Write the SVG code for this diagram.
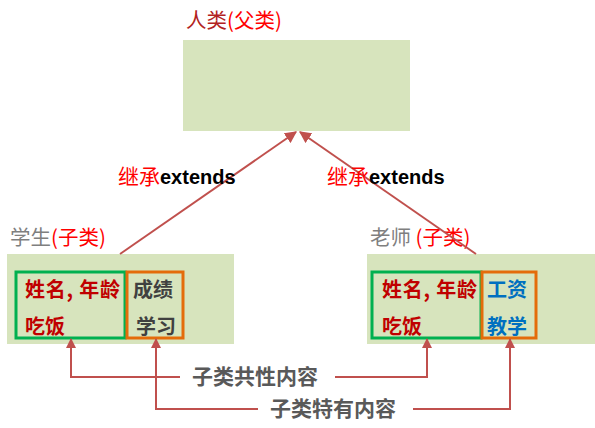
<svg xmlns="http://www.w3.org/2000/svg" width="595" height="428" viewBox="0 0 595 428">
<defs>
<style>
.cjk{font-family:"Noto Sans CJK SC","Liberation Sans",sans-serif;}
.title{font-size:20.5px;}
.box{fill:#D7E4BD;}
.green{fill:none;stroke:#00B050;stroke-width:3;}
.orange{fill:none;stroke:#E46C0A;stroke-width:3;}
.item{font-size:20px;font-weight:bold;}
.conn{fill:none;stroke:#C0504D;stroke-width:2;}
.lab{font-size:21px;font-weight:bold;fill:#595959;}
</style>
<marker id="ah" viewBox="0 0 10 10" refX="9" refY="5" markerWidth="6" markerHeight="6" orient="auto" markerUnits="strokeWidth">
<path d="M0,0 L10,5 L0,10 Z" fill="#C0504D"/>
</marker>
<marker id="ahs" viewBox="0 0 10 10" refX="9" refY="5" markerWidth="5" markerHeight="5" orient="auto" markerUnits="strokeWidth">
<path d="M0,0 L10,5 L0,10 Z" fill="#C0504D"/>
</marker>
</defs>
<rect width="595" height="428" fill="#ffffff"/>

<g id="parent">
<rect class="box" x="183" y="40" width="227" height="91"/>
<text class="cjk title" x="186" y="28"><tspan fill="#B22222">人类</tspan><tspan fill="#FF0000">(父类)</tspan></text>
</g>

<g id="student">
<text class="cjk title" x="10" y="245"><tspan fill="#7F7F7F">学生</tspan><tspan fill="#FF0000">(子类)</tspan></text>
<rect class="box" x="7" y="254" width="227" height="90"/>
<rect class="green" x="16" y="272" width="109" height="66"/>
<rect class="orange" x="127" y="272" width="56" height="66"/>
<text class="cjk item" x="25" y="297" fill="#C00000" textLength="95">姓名, 年龄</text>
<text class="cjk item" x="25" y="334" fill="#C00000">吃饭</text>
<text class="cjk item" x="133" y="297" fill="#404040">成绩</text>
<text class="cjk item" x="136" y="334" fill="#404040">学习</text>
</g>

<g id="teacher">
<text class="cjk title" x="370" y="245"><tspan fill="#7F7F7F">老师 </tspan><tspan fill="#FF0000">(子类)</tspan></text>
<rect class="box" x="367" y="254" width="228" height="90"/>
<rect class="green" x="372" y="272" width="109" height="66"/>
<rect class="orange" x="482" y="272" width="54" height="66"/>
<text class="cjk item" x="382" y="297" fill="#C00000" textLength="95">姓名, 年龄</text>
<text class="cjk item" x="382" y="334" fill="#C00000">吃饭</text>
<text class="cjk item" x="487" y="297" fill="#0070C0">工资</text>
<text class="cjk item" x="487" y="334" fill="#0070C0">教学</text>
</g>

<g id="connectors">
<line class="conn" x1="120" y1="254" x2="296" y2="132" marker-end="url(#ah)"/>
<line class="conn" x1="476" y1="254" x2="300" y2="132" marker-end="url(#ah)"/>
<polyline class="conn" points="180,377 71,377 71,339" marker-end="url(#ahs)"/>
<polyline class="conn" points="335,377 427,377 427,339" marker-end="url(#ahs)"/>
<polyline class="conn" points="258,409 156,409 156,339" marker-end="url(#ahs)"/>
<polyline class="conn" points="413,409 510,409 510,339" marker-end="url(#ahs)"/>
</g>

<g id="labels">
<text class="cjk" x="118" y="184" font-size="21"><tspan fill="#FF0000">继承</tspan><tspan fill="#000000" font-weight="bold" font-family="'Liberation Sans',sans-serif" font-size="20">extends</tspan></text>
<text class="cjk" x="327" y="184" font-size="21"><tspan fill="#FF0000">继承</tspan><tspan fill="#000000" font-weight="bold" font-family="'Liberation Sans',sans-serif" font-size="20">extends</tspan></text>
<text class="cjk lab" x="192" y="384">子类共性内容</text>
<text class="cjk lab" x="270" y="416">子类特有内容</text>
</g>
</svg>
